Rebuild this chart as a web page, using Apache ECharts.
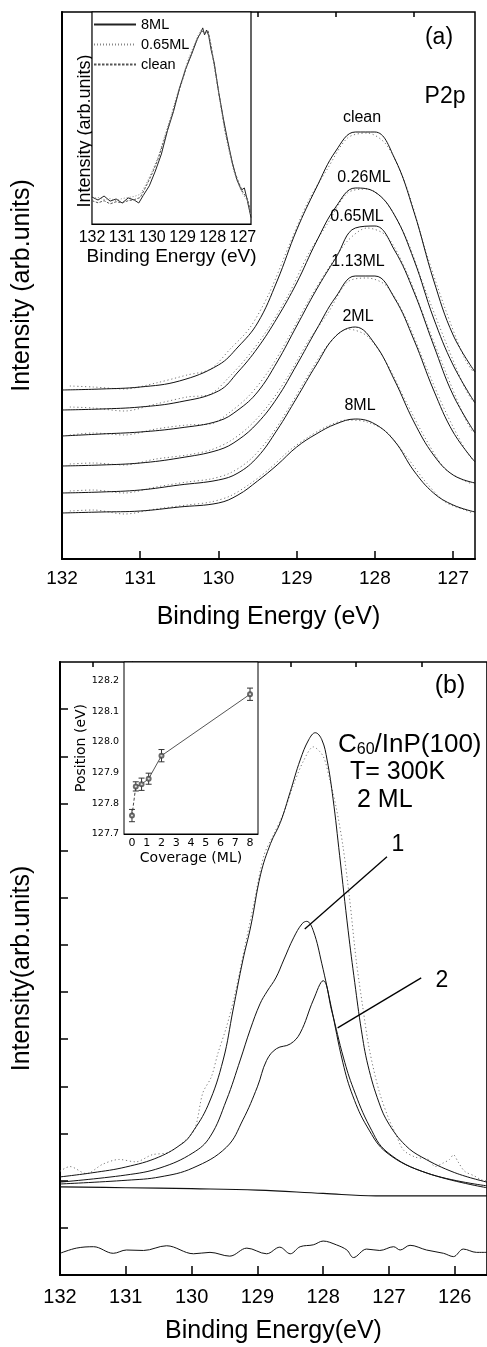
<!DOCTYPE html>
<html>
<head>
<meta charset="utf-8">
<script src="https://cdn.jsdelivr.net/npm/echarts@6/dist/echarts.min.js"></script>
<style>
html,body{margin:0;padding:0;background:#fff;}
#chart{width:487px;height:1347px;}
</style>
</head>
<body>
<div id="chart"></div>
<script>
// ---------- Panel (a): P2p spectra ----------
const energyA = [132,131.5,131,130.5,130,129.75,129.5,129.25,129,128.75,128.5,128.25,128,127.75,127.5,127.25,127,126.72];
const fitClean = [169,170,172,178,194,212,236,278,329,371,408,427,427,401,347,279,224,187];
const fit026   = [149,150,152,157,168,187,211,241,276,317,352,371,367,344,299,241,194,156];
const fit065   = [123,125,127,131,138,149,167,197,233,269,301,331,333,309,267,214,164,126];
const fit113   = [93,94,96,101,109,119,136,161,194,229,262,283,283,261,219,169,127,97];
const fit2ML   = [66,67,69,74,79,86,102,129,161,194,223,232,215,179,137,104,84,76];
const fit8ML   = [46,47,48,52,56,64,78,94,112,125,135,140,135,118,88,66,54,47];

const energyAData = [131.9,131.6,131.2,130.8,130.4,130.1,129.85,129.6,129.35,129.1,128.85,128.6,128.35,128.1,127.85,127.6,127.35,127.1,126.85,126.75];
const dataClean = [173,172,170,176,184,190,210,231,266,313,358,391,421,426,414,373,308,250,200,188];
const data026   = [152,151,148,155,162,165,183,205,232,265,305,336,366,370,356,321,268,218,171,158];
const data065   = [124,126,124,130,134,135,147,164,189,222,258,290,318,331,323,288,238,188,141,127];
const data113   = [95,96,94,100,104,109,118,133,155,184,218,246,277,281,273,240,193,148,110,99];
const data2ML   = [68,69,66,72,77,80,86,99,121,151,184,214,230,223,196,157,120,90,78,75];
const data8ML   = [48,49,45,50,54,57,63,75,90,108,122,133,139,137,127,103,77,57,49,46];

const curveLabels = ['clean','0.26ML','0.65ML','1.13ML','2ML','8ML'];
const ticksA = [132,131,130,129,128,127];
const minorA = [131.5,130.5,129.5,128.5,127.5];

// inset (a)
const insetE1 = [132,131.8,131.6,131.4,131.2,131,130.8,130.6,130.45,130.3,130.1,129.9,129.7,129.5,129.3,129.1,128.9,128.7,128.5,128.4,128.33,128.27,128.2,128.13,128.05,127.95,127.8,127.65,127.5,127.35,127.2,127.05,126.95,126.85,126.73];
const inset8ML = [12.7,11.3,13.2,10.8,11.8,9.9,12.3,11.3,9.9,13.5,18,25,33,44,53,64,73,80,87.7,90.1,92.5,89.2,91.5,88.7,82,76,62,50,39,29,21,16,17,11,3];
const insetE2 = [132,131.8,131.6,131.4,131.2,131,130.8,130.6,130.4,130.2,130,129.8,129.6,129.4,129.2,129,128.8,128.6,128.45,128.35,128.25,128.15,128.05,127.9,127.75,127.6,127.45,127.3,127.15,127,126.85,126.73];
const insetClean = [11,10,11,9.5,10.5,10,11,11.5,12.5,18,24,31,40,49,59,68,77,84,89,91,90,91,84,71,58,45,35,26,20,15,12,5];
const inset065 = [12,12.5,11.5,12,11,12,12.5,13,14,19,25,32,41,50,60,69,78,85,90,92,91,90,83,70,57,44,34,25,19,14,11,4];
const ticksInsetA = [132,131,130,129,128,127];

// ---------- Panel (b): 2 ML fit ----------
const bTotalE = [132,131.5,131,130.5,130.13,130,129.75,129.52,129.37,129.22,129.1,128.95,128.8,128.65,128.5,128.35,128.22,128.12,128.02,127.94,127.85,127.75,127.62,127.52,127.42,127.32,127.15,127,126.75,126.5,126,125.51];
const bTotalV = [2.08,2.17,2.29,2.5,2.8,3.0,3.6,4.56,5.62,6.68,7.4,8.5,9.15,9.6,10.25,10.92,11.35,11.5,11.35,10.92,10.1,8.9,7.3,6.2,5.2,4.45,3.65,3.2,2.75,2.5,2.17,1.97];
const bDataE = [132,131.85,131.6,131.35,131.1,130.85,130.6,130.35,130.1,129.95,129.83,129.7,129.6,129.47,129.35,129.2,129.05,128.9,128.75,128.6,128.45,128.3,128.15,128,127.9,127.8,127.7,127.6,127.5,127.4,127.3,127.15,127,126.9,126.78,126.6,126.4,126.3,126.17,126.08,126.02,125.95,125.85,125.7,125.6,125.51];
const bDataV = [2.2,2.3,2.15,2.35,2.45,2.4,2.55,2.6,2.85,3.1,3.86,4.2,4.7,5.26,5.9,6.9,7.9,8.9,9.35,9.8,10.4,10.9,11.2,11.0,10.5,9.9,9.1,8.0,6.7,5.7,4.8,3.9,3.3,3.0,2.65,2.5,2.45,2.3,2.38,2.45,2.55,2.4,2.2,2.1,2.02,2.0];
const bC1E = [132,131,130.48,129.98,129.72,129.47,129.26,129.11,128.96,128.85,128.72,128.6,128.45,128.32,128.25,128.15,128.02,127.88,127.7,127.55,127.33,127.03,126.42,125.51];
const bC1V = [1.97,2.12,2.27,2.59,2.93,3.71,4.56,5.2,5.75,6.02,6.3,6.68,7.15,7.45,7.5,7.3,6.6,5.7,4.5,3.8,3.14,2.59,2.16,1.85];
const bC2E = [132,130.98,130.48,129.98,129.47,129.22,129.0,128.86,128.71,128.5,128.35,128.15,128.0,127.87,127.69,127.54,127.29,127.03,126.42,125.51];
const bC2V = [1.93,2.01,2.08,2.27,2.71,3.29,3.99,4.55,4.8,4.9,5.13,5.83,6.24,5.6,4.6,3.95,3.14,2.61,2.16,1.89];
const bBgE = [132,131,130,129,128,127.2,126.5,125.51];
const bBgV = [1.87,1.85,1.83,1.8,1.73,1.68,1.68,1.68];
const bResE = [132,131.75,131.49,131.19,130.99,130.73,130.38,129.97,129.72,129.42,129.16,128.86,128.66,128.5,128.35,128.15,128.0,127.8,127.64,127.54,127.34,127.14,126.93,126.83,126.68,126.43,126.17,126.02,125.87,125.67,125.51];
const bResV = [0.46,0.57,0.60,0.46,0.53,0.52,0.62,0.45,0.48,0.40,0.57,0.45,0.59,0.45,0.60,0.64,0.72,0.64,0.53,0.37,0.55,0.52,0.60,0.53,0.63,0.53,0.46,0.39,0.55,0.48,0.48];
const leader1 = [[127.03,8.87],[128.28,7.34]];
const leader2 = [[126.51,6.3],[127.78,5.24]];
const ticksB = [132,131,130,129,128,127,126];
const minorB = [131.5,130.5,129.5,128.5,127.5,126.5];
const bYTicks = [1,2,3,4,5,6,7,8,9,10,11,12];

// inset (b): peak position vs coverage
const coverage = [0,0.26,0.65,1.13,2,8];
const position = [127.76,127.855,127.862,127.88,127.955,128.155];
const positionErr = [0.02,0.015,0.02,0.018,0.02,0.02];
const ticksCoverage = [0,1,2,3,4,5,6,7,8];
const ticksPosition = [127.7,127.8,127.9,128.0,128.1,128.2];

// ---------- build ----------
const FONT = '"Liberation Sans", Arial, sans-serif';
const FONT2 = '"DejaVu Sans", sans-serif';
const pairs = (xs, ys) => xs.map((x, i) => [x, ys[i]]);
const INK = '#111';

function fitSeries(vals){
  return {type:'line', xAxisIndex:0, yAxisIndex:0, data:pairs(energyA, vals), smooth:0.4,
    symbol:'none', lineStyle:{color:INK, width:1}, silent:true, z:3};
}
function dataSeries(vals){
  return {type:'line', xAxisIndex:0, yAxisIndex:0, data:pairs(energyAData, vals), smooth:0.3,
    symbol:'none', lineStyle:{color:'#777', width:1, type:[1.2,2.6]}, silent:true, z:2};
}

const labelPos = [[362,118],[364,178],[357,217],[358,262],[358,317],[360,406]];

function txt(x, y, text, size, align, family){
  return {type:'text', x:x, y:y, silent:true, z:10,
    style:{text:text, font:size+'px '+(family||FONT), fill:'#000',
      textAlign:align||'center', align:align||'center',
      textVerticalAlign:'middle', verticalAlign:'middle'}};
}

const graphics = [];
curveLabels.forEach((t, i) => graphics.push(txt(labelPos[i][0], labelPos[i][1], t, 16)));
graphics.push(txt(439, 38, '(a)', 23));
graphics.push(txt(445, 97, 'P2p', 23));
graphics.push(txt(450, 686, '(b)', 25));
graphics.push({type:'text', x:338, y:745, silent:true, z:10,
  style:{text:'{a|C}{b|60}{a|/InP(100)}', fill:'#000', textAlign:'left', align:'left',
    textVerticalAlign:'middle', verticalAlign:'middle',
    rich:{a:{fontSize:26, fontFamily:FONT, fill:'#000', verticalAlign:'bottom'},
          b:{fontSize:16, fontFamily:FONT, fill:'#000', verticalAlign:'bottom'}}}});
graphics.push(txt(350, 772, 'T= 300K', 25, 'left'));
graphics.push(txt(357, 800, '2 ML', 25, 'left'));
graphics.push(txt(398, 845, '1', 23));
graphics.push(txt(442, 981, '2', 23));

const axisBlack = {color:'#000'};

const option = {
  backgroundColor:'#fff',
  animation:false,
  textStyle:{fontFamily:FONT},
  grid:[
    {left:62, top:12, width:413, height:547, show:true, borderColor:'#000', borderWidth:1.5, backgroundColor:'transparent'},
    {left:92, top:12, width:159, height:212, show:true, borderColor:'#000', borderWidth:1.2, backgroundColor:'#fff', z:5},
    {left:60, top:662, width:427, height:613, show:true, borderColor:'#000', borderWidth:1.6, backgroundColor:'transparent'},
    {left:124, top:662, width:134, height:172, show:true, borderColor:'#000', borderWidth:1, backgroundColor:'#fff', z:5}
  ],
  legend:{
    orient:'vertical', left:93, top:17, itemWidth:42, itemHeight:14, itemGap:5, padding:0,
    data:['8ML','0.65ML','clean'], selectedMode:false, z:8,
    itemStyle:{color:'rgba(0,0,0,0)', borderColor:'rgba(0,0,0,0)', borderWidth:0, opacity:0},
    textStyle:{fontSize:14.5, fontFamily:FONT, color:'#000'}
  },
  xAxis:[
    {gridIndex:0, type:'value', min:126.72, max:132, inverse:true,
      axisLine:{show:true, lineStyle:{color:'#000', width:2}},
      axisTick:{show:true, inside:true, length:8, customValues:ticksA, lineStyle:{color:'#000', width:1.5}},
      axisLabel:{customValues:ticksA, fontSize:19, color:'#000', margin:10, fontFamily:FONT},
      splitLine:{show:false},
      name:'Binding Energy (eV)', nameLocation:'middle', nameGap:46,
      nameTextStyle:{fontSize:25, color:'#000', fontFamily:FONT}},
    {gridIndex:0, type:'value', min:126.72, max:132, inverse:true,
      axisLine:{show:false},
      axisTick:{show:true, inside:true, length:5, customValues:minorA, lineStyle:{color:'#000', width:1.5}},
      axisLabel:{show:false}, splitLine:{show:false}},
    {gridIndex:1, type:'value', min:126.73, max:132, inverse:true,
      axisLine:{show:true, lineStyle:{color:'#000', width:1.2}},
      axisTick:{show:true, inside:true, length:3, customValues:ticksInsetA, lineStyle:axisBlack},
      axisLabel:{customValues:ticksInsetA, fontSize:16, color:'#000', margin:6, fontFamily:FONT},
      splitLine:{show:false},
      name:'Binding Energy (eV)', nameLocation:'middle', nameGap:22,
      nameTextStyle:{fontSize:19, color:'#000', fontFamily:FONT}},
    {gridIndex:2, type:'value', min:125.51, max:132, inverse:true,
      axisLine:{show:true, lineStyle:{color:'#000', width:2}},
      axisTick:{show:true, inside:true, length:9, customValues:ticksB, lineStyle:{color:'#000', width:1.5}},
      axisLabel:{customValues:ticksB, fontSize:20, color:'#000', margin:12, fontFamily:FONT},
      splitLine:{show:false},
      name:'Binding Energy(eV)', nameLocation:'middle', nameGap:44,
      nameTextStyle:{fontSize:25, color:'#000', fontFamily:FONT}},
    {gridIndex:2, type:'value', min:125.51, max:132, inverse:true,
      axisLine:{show:false},
      axisTick:{show:true, inside:true, length:5, customValues:minorB, lineStyle:{color:'#000', width:1.5}},
      axisLabel:{show:false}, splitLine:{show:false}},
    {gridIndex:3, type:'value', min:-0.54, max:8.54,
      axisLine:{show:true, lineStyle:{color:'#000', width:1}},
      axisTick:{show:true, inside:true, length:3, customValues:ticksCoverage, lineStyle:axisBlack},
      axisLabel:{customValues:ticksCoverage, fontSize:11, color:'#000', margin:4, fontFamily:FONT2},
      splitLine:{show:false},
      name:'Coverage (ML)', nameLocation:'middle', nameGap:17,
      nameTextStyle:{fontSize:14, color:'#000', fontFamily:FONT2}}
  ],
  yAxis:[
    {gridIndex:0, type:'value', min:0, max:547,
      axisLine:{show:true, lineStyle:{color:'#000', width:2}},
      axisTick:{show:false}, axisLabel:{show:false}, splitLine:{show:false},
      name:'Intensity (arb.units)', nameLocation:'middle', nameGap:27,
      nameTextStyle:{fontSize:25, color:'#000', fontFamily:FONT}},
    {gridIndex:1, type:'value', min:0, max:100,
      axisLine:{show:true, lineStyle:{color:'#000', width:1.2}},
      axisTick:{show:false}, axisLabel:{show:false}, splitLine:{show:false},
      name:'Intensity (arb.units)', nameLocation:'middle', nameGap:-2,
      nameTextStyle:{fontSize:18, color:'#000', fontFamily:FONT, padding:[0,26,0,0]}},
    {gridIndex:2, type:'value', min:0, max:13,
      axisLine:{show:true, lineStyle:{color:'#000', width:2}},
      axisTick:{show:true, inside:true, length:8, customValues:bYTicks, lineStyle:{color:'#000', width:1.5}},
      axisLabel:{show:false}, splitLine:{show:false},
      name:'Intensity(arb.units)', nameLocation:'middle', nameGap:25,
      nameTextStyle:{fontSize:25, color:'#000', fontFamily:FONT}},
    {gridIndex:3, type:'value', min:127.7, max:128.26,
      axisLine:{show:true, lineStyle:{color:'#000', width:1}},
      axisTick:{show:true, inside:false, length:3, customValues:ticksPosition, lineStyle:axisBlack},
      axisLabel:{customValues:ticksPosition, fontSize:9.5, color:'#000', margin:5, fontFamily:FONT2,
        formatter:v => Number(v).toFixed(1)},
      splitLine:{show:false},
      name:'Position (eV)', nameLocation:'middle', nameGap:33,
      nameTextStyle:{fontSize:14, color:'#000', fontFamily:FONT2}}
  ],
  series:[
    // panel (a) data (dotted) and fits (solid)
    dataSeries(dataClean), dataSeries(data026), dataSeries(data065),
    dataSeries(data113), dataSeries(data2ML), dataSeries(data8ML),
    fitSeries(fitClean), fitSeries(fit026), fitSeries(fit065),
    fitSeries(fit113), fitSeries(fit2ML), fitSeries(fit8ML),
    // inset (a)
    {name:'8ML', type:'line', xAxisIndex:2, yAxisIndex:1, data:pairs(insetE1, inset8ML), symbol:'none',
      itemStyle:{color:'#222'}, lineStyle:{color:'#222', width:1}, z:6},
    {name:'0.65ML', type:'line', xAxisIndex:2, yAxisIndex:1, data:pairs(insetE2, inset065), symbol:'none',
      itemStyle:{color:'#888'}, lineStyle:{color:'#888', width:1, type:[1,2]}, z:6},
    {name:'clean', type:'line', xAxisIndex:2, yAxisIndex:1, data:pairs(insetE2, insetClean), symbol:'none',
      itemStyle:{color:'#555'}, lineStyle:{color:'#555', width:1, type:[2.5,1.5]}, z:6},
    // panel (b)
    {type:'line', xAxisIndex:3, yAxisIndex:2, data:pairs(bDataE, bDataV), smooth:0.3, symbol:'none',
      lineStyle:{color:'#777', width:1, type:[1.2,2.6]}, z:2},
    {type:'line', xAxisIndex:3, yAxisIndex:2, data:pairs(bTotalE, bTotalV), smooth:0.4, symbol:'none',
      lineStyle:{color:INK, width:1}, z:3},
    {type:'line', xAxisIndex:3, yAxisIndex:2, data:pairs(bC1E, bC1V), smooth:0.4, symbol:'none',
      lineStyle:{color:INK, width:1}, z:3},
    {type:'line', xAxisIndex:3, yAxisIndex:2, data:pairs(bC2E, bC2V), smooth:0.4, symbol:'none',
      lineStyle:{color:INK, width:1}, z:3},
    {type:'line', xAxisIndex:3, yAxisIndex:2, data:pairs(bBgE, bBgV), smooth:0.4, symbol:'none',
      lineStyle:{color:INK, width:1.2}, z:3},
    {type:'line', xAxisIndex:3, yAxisIndex:2, data:pairs(bResE, bResV), smooth:0.35, symbol:'none',
      lineStyle:{color:INK, width:1}, z:3},
    {type:'line', xAxisIndex:3, yAxisIndex:2, data:leader1, symbol:'none',
      lineStyle:{color:'#000', width:1.3}, z:4},
    {type:'line', xAxisIndex:3, yAxisIndex:2, data:leader2, symbol:'none',
      lineStyle:{color:'#000', width:1.3}, z:4},
    // inset (b)
    {type:'line', xAxisIndex:5, yAxisIndex:3, data:pairs(coverage.slice(0,2), position.slice(0,2)),
      symbol:'none', lineStyle:{color:'#444', width:1, type:[3,2]}, z:6},
    {type:'line', xAxisIndex:5, yAxisIndex:3, data:pairs(coverage.slice(1), position.slice(1)),
      symbol:'none', lineStyle:{color:'#555', width:1}, z:6},
    {type:'scatter', xAxisIndex:5, yAxisIndex:3, data:pairs(coverage, position),
      symbol:'emptyCircle', symbolSize:4, itemStyle:{color:'#444', borderColor:'#444', borderWidth:1}, z:7},
    {type:'custom', xAxisIndex:5, yAxisIndex:3, z:7,
      data:coverage.map((c, i) => [c, position[i] - positionErr[i], position[i] + positionErr[i]]),
      encode:{x:0, y:[1,2]},
      renderItem:function(params, api){
        const x = api.value(0), lo = api.value(1), hi = api.value(2);
        const a = api.coord([x, hi]), b = api.coord([x, lo]);
        const w = 3, st = {stroke:'#333', lineWidth:1};
        return {type:'group', children:[
          {type:'line', shape:{x1:a[0], y1:a[1], x2:b[0], y2:b[1]}, style:st},
          {type:'line', shape:{x1:a[0]-w, y1:a[1], x2:a[0]+w, y2:a[1]}, style:st},
          {type:'line', shape:{x1:b[0]-w, y1:b[1], x2:b[0]+w, y2:b[1]}, style:st}
        ]};
      }}
  ],
  graphic:graphics
};

const chart = echarts.init(document.getElementById('chart'), null, {renderer:'canvas'});
chart.setOption(option);
</script>
</body>
</html>
